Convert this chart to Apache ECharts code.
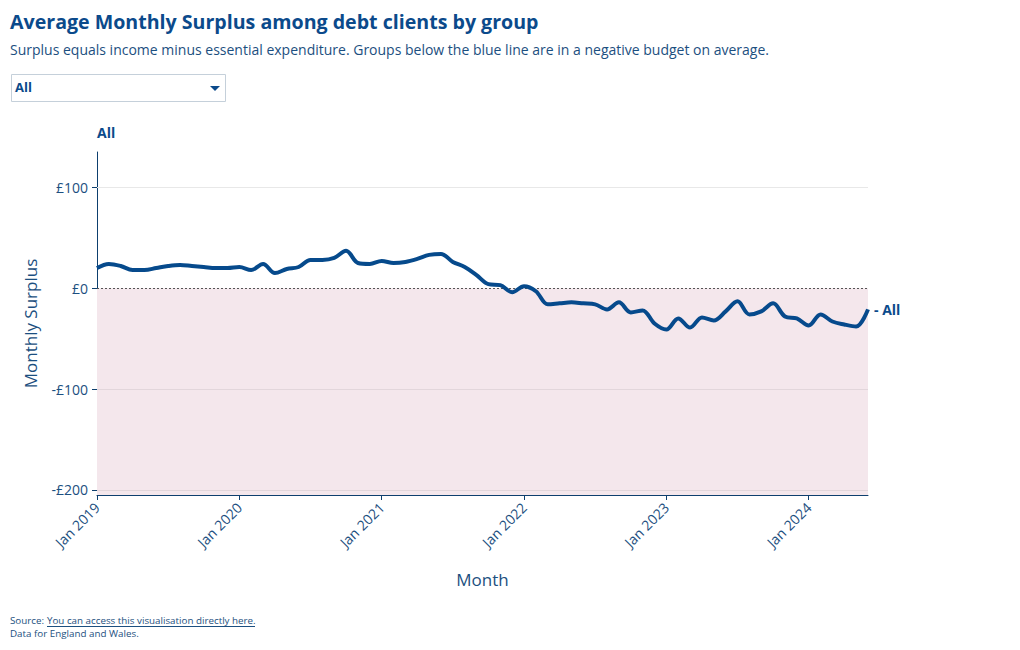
<!DOCTYPE html>
<html>
<head>
<meta charset="utf-8">
<script src="https://cdn.jsdelivr.net/npm/echarts@6/dist/echarts.min.js"></script>
<style>
html,body{margin:0;padding:0;background:#fff;}
#chart{width:1020px;height:650px;}
</style>
</head>
<body>
<div id="chart"></div>
<script>
// ---- data ----
const months = [];
const monthNames = ['Jan','Feb','Mar','Apr','May','Jun','Jul','Aug','Sep','Oct','Nov','Dec'];
for (let y = 2019; y <= 2024; y++) {
  for (let m = 0; m < 12; m++) {
    if (y === 2024 && m > 5) break;
    months.push(monthNames[m] + ' ' + y);
  }
}
const surplusAll = [
  20, 24, 22, 18, 18, 20, 22, 23, 22, 21, 20, 20,
  21, 18, 24, 15, 19, 21, 28, 28, 30, 37, 25, 24,
  27, 25, 26, 29, 33, 34, 26, 21, 13, 4, 3, -4,
  2, -3, -16, -15, -14, -15, -16, -21, -14, -24, -22, -35,
  -41, -30, -39, -29, -32, -23, -13, -26, -23, -15, -28, -30,
  -37, -26, -33, -36, -38, -21
];
const yTicks = [-200, -100, 0, 100];
const groupName = 'All';

const blue = '#0b4a8b';
const textBlue = '#1c4f80';
const font = '"Open Sans", "Noto Sans", sans-serif';

const chart = echarts.init(document.getElementById('chart'), null, {renderer: 'svg'});
chart.setOption({
  animation: false,
  backgroundColor: '#ffffff',
  textStyle: {fontFamily: font},
  grid: {left: 97, right: 152, top: 152, bottom: 155},
  xAxis: {
    type: 'category',
    data: months,
    boundaryGap: false,
    name: 'Month',
    nameLocation: 'middle',
    nameGap: 76,
    nameTextStyle: {fontSize: 17, color: textBlue, fontFamily: font},
    axisLine: {show: true, onZero: false, lineStyle: {color: '#0d3f6e', width: 1}},
    axisTick: {show: true, length: 5, interval: (i) => i % 12 === 0, lineStyle: {color: '#0d3f6e'}},
    axisLabel: {
      interval: (i) => i % 12 === 0,
      rotate: 45,
      fontSize: 14,
      color: textBlue,
      margin: 10,
      fontFamily: font
    },
    splitLine: {show: false}
  },
  yAxis: {
    type: 'value',
    min: -205,
    max: 135,
    name: 'Monthly Surplus',
    nameLocation: 'middle',
    nameGap: 58,
    nameRotate: 90,
    nameTextStyle: {fontSize: 17, color: textBlue, fontFamily: font},
    axisLine: {show: true, lineStyle: {color: '#0d3f6e', width: 1}},
    axisTick: {show: true, length: 5, customValues: yTicks, lineStyle: {color: '#0d3f6e'}},
    axisLabel: {
      customValues: yTicks,
      fontSize: 14,
      color: textBlue,
      margin: 9,
      fontFamily: font,
      formatter: (v) => (v < 0 ? '-£' + Math.abs(v) : '£' + v)
    },
    splitLine: {show: false}
  },
  graphic: [
    {type: 'text', left: 10, top: 11, style: {text: 'Average Monthly Surplus among debt clients by group', font: 'bold 19.6px "Open Sans", sans-serif', fill: blue}},
    {type: 'text', left: 10, top: 42, style: {text: 'Surplus equals income minus essential expenditure. Groups below the blue line are in a negative budget on average.', font: '14px "Open Sans", sans-serif', fill: textBlue}},
    {type: 'rect', shape: {x: 11.5, y: 74.5, width: 214, height: 27}, style: {fill: '#fff', stroke: '#c5d0da', lineWidth: 1}},
    {type: 'text', x: 15, y: 80, style: {text: groupName, font: 'bold 13px "Open Sans", sans-serif', fill: blue}},
    {type: 'polygon', shape: {points: [[210, 86], [220, 86], [215, 91]]}, style: {fill: blue}},
    {type: 'text', x: 97, y: 125, style: {text: groupName, font: 'bold 14px "Open Sans", sans-serif', fill: blue}},
    {type: 'text', x: 10, y: 615, style: {text: 'Source: ', font: '9.8px "Open Sans", sans-serif', fill: textBlue}},
    {type: 'text', x: 47, y: 615, style: {text: 'You can access this visualisation directly here.', font: '9.8px "Open Sans", sans-serif', fill: textBlue}},
    {type: 'line', shape: {x1: 47, y1: 626.5, x2: 255, y2: 626.5}, style: {stroke: textBlue, lineWidth: 1}},
    {type: 'text', x: 10, y: 628, style: {text: 'Data for England and Wales.', font: '9.8px "Open Sans", sans-serif', fill: textBlue}}
  ],
  series: [{
    type: 'line',
    name: groupName,
    data: surplusAll,
    smooth: 0.35,
    symbol: 'none',
    lineStyle: {color: '#064a8c', width: 4},
    itemStyle: {color: '#064a8c'},
    endLabel: {
      show: true,
      formatter: '- ' + groupName,
      distance: 6,
      fontSize: 14,
      fontWeight: 'bold',
      color: blue,
      fontFamily: font
    },
    markArea: {
      silent: true,
      itemStyle: {color: '#f4e7ec'},
      data: [[{yAxis: 0}, {yAxis: -205}]]
    },
    markLine: {
      silent: true,
      symbol: 'none',
      label: {show: false},
      data: [
        {yAxis: 100, lineStyle: {color: '#e8e8e8', type: 'solid', width: 1}},
        {yAxis: -100, lineStyle: {color: '#e2d6db', type: 'solid', width: 1}},
        {yAxis: -200, lineStyle: {color: '#e2d6db', type: 'solid', width: 1}},
        {yAxis: 0, lineStyle: {color: '#555555', type: [2, 2], width: 1}}
      ]
    },
    z: 5
  }]
});
</script>
</body>
</html>
